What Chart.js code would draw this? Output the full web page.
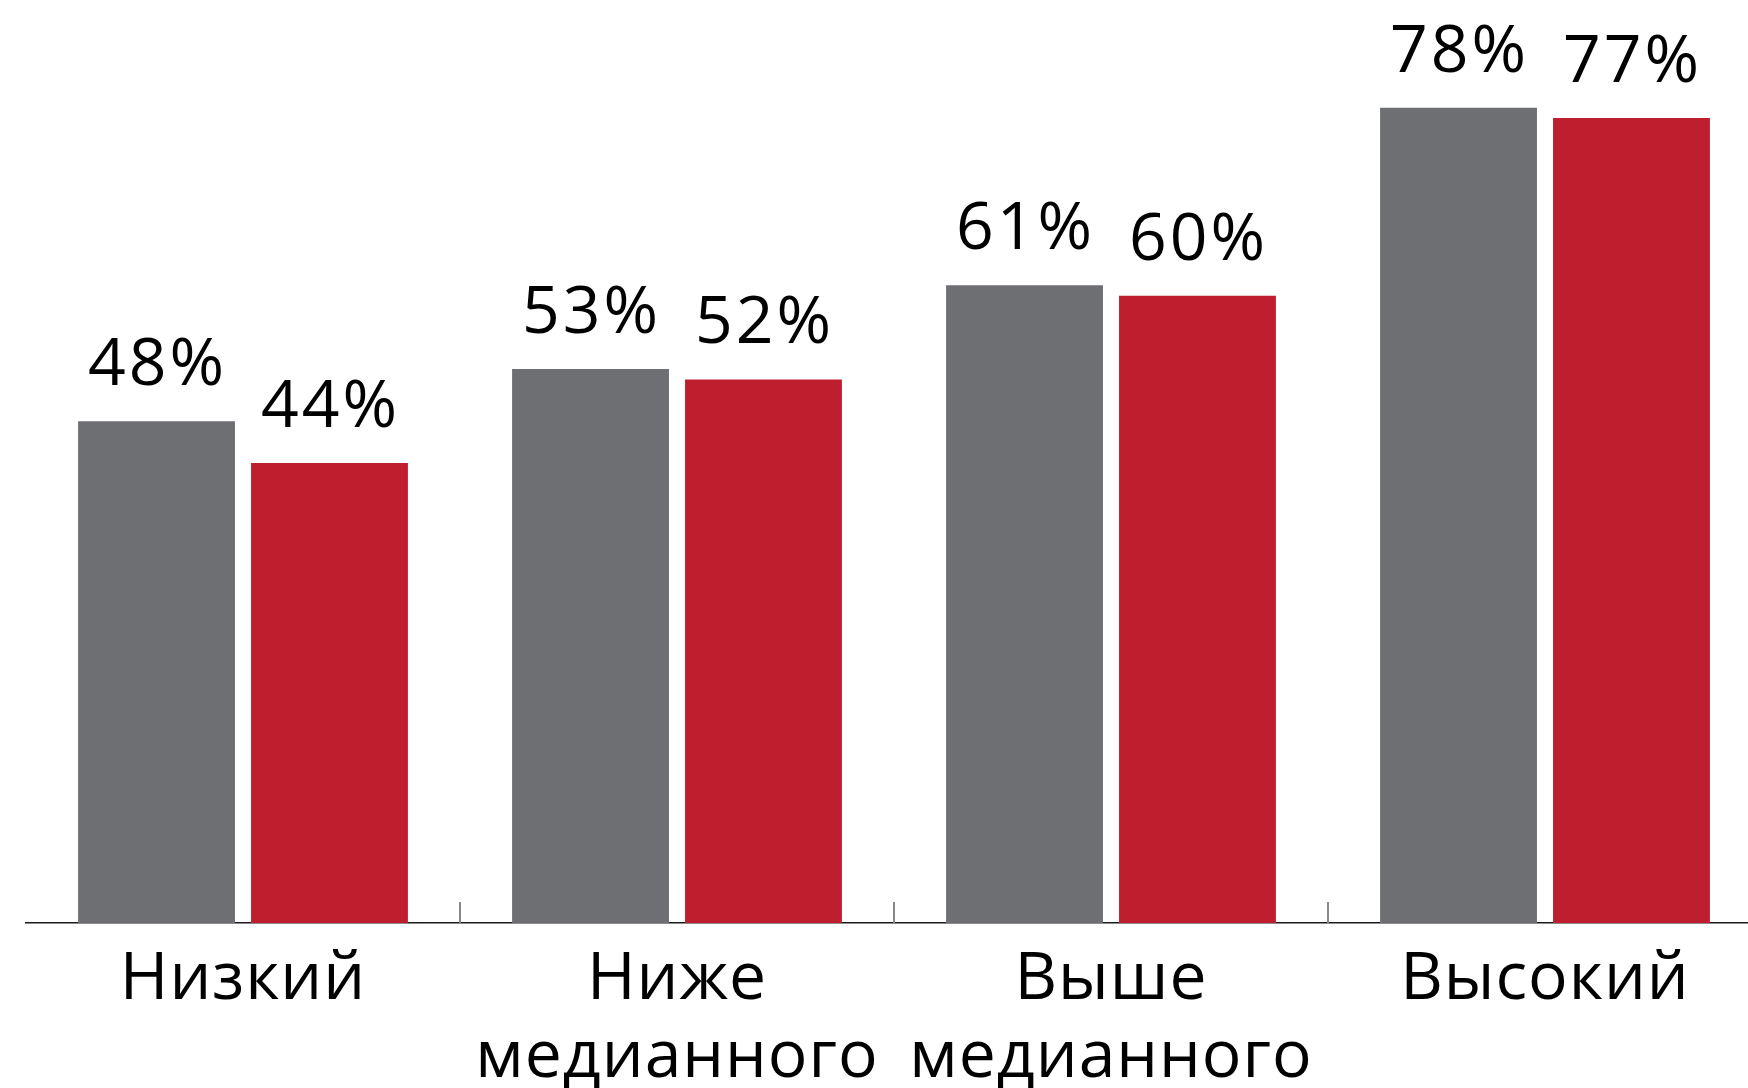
<!DOCTYPE html>
<html lang="ru">
<head>
<meta charset="utf-8">
<title>Доля по уровню дохода</title>
<script src="https://cdn.jsdelivr.net/npm/chart.js@4/dist/chart.umd.min.js"></script>
<style>
  html, body { margin: 0; padding: 0; background: #fff; overflow: hidden; }
  #wrap { width: 1748px; height: 1088px; overflow: hidden; }
  canvas { display: block; }
</style>
</head>
<body>
<div id="wrap"><canvas id="chart" width="1762" height="1088"></canvas></div>
<script>
// Chart data
const categories = [["Низкий"], ["Ниже", "медианного"], ["Выше", "медианного"], ["Высокий"]];
const seriesGray = [48, 53, 61, 78];
const seriesRed = [44, 52, 60, 77];

const GRAY = "#6e6f73";
const RED = "#be1e2e";
const FONT = "'Open Sans', 'DejaVu Sans', sans-serif";

// slightly wider tracking for the axis labels, closer to the original typeface
const tracking = {
  id: "tracking",
  beforeDraw(chart) { chart.ctx.letterSpacing = "1px"; }
};

// Percent labels above each bar
const valueLabels = {
  id: "valueLabels",
  afterDatasetsDraw(chart) {
    const ctx = chart.ctx;
    ctx.save();
    ctx.font = `66px ${FONT}`;
    ctx.letterSpacing = "3px";
    ctx.fillStyle = "#000";
    ctx.textAlign = "center";
    ctx.textBaseline = "alphabetic";
    chart.data.datasets.forEach((ds, di) => {
      chart.getDatasetMeta(di).data.forEach((bar, i) => {
        ctx.fillText(`${ds.data[i]}%`, bar.x + 1, bar.y - 36);
      });
    });
    ctx.restore();
  }
};

// Small separator ticks between the category groups, sitting above the axis
const groupTicks = {
  id: "groupTicks",
  afterDraw(chart) {
    const x = chart.scales.x;
    const ctx = chart.ctx;
    const bottom = chart.chartArea.bottom;
    ctx.save();
    ctx.strokeStyle = "#888888";
    ctx.lineWidth = 2;
    for (let i = 1; i < categories.length; i++) {
      const px = Math.round((x.getPixelForValue(i - 1) + x.getPixelForValue(i)) / 2);
      ctx.beginPath();
      ctx.moveTo(px, bottom);
      ctx.lineTo(px, bottom - 21);
      ctx.stroke();
    }
    ctx.restore();
  }
};

new Chart(document.getElementById("chart").getContext("2d"), {
  type: "bar",
  data: {
    labels: categories,
    datasets: [
      { data: seriesGray, backgroundColor: GRAY },
      { data: seriesRed, backgroundColor: RED }
    ]
  },
  options: {
    responsive: false,
    animation: false,
    devicePixelRatio: 1,
    layout: { padding: { left: 26, right: 0, top: 0, bottom: 0 } },
    datasets: { bar: { categoryPercentage: 0.797, barPercentage: 0.907 } },
    plugins: { legend: { display: false }, tooltip: { enabled: false } },
    scales: {
      y: { display: false, min: 0, max: 88.3 },
      x: {
        afterFit: (scale) => { scale.height = 165; },
        grid: { display: true, drawOnChartArea: false, drawTicks: false, color: "transparent" },
        border: { display: true, color: "#1a1a1a", width: 1.5 },
        ticks: {
          color: "#000",
          padding: 18,
          maxRotation: 0,
          autoSkip: false,
          font: { family: FONT, size: 66, lineHeight: 1.18 }
        }
      }
    }
  },
  plugins: [tracking, valueLabels, groupTicks]
});
</script>
</body>
</html>
